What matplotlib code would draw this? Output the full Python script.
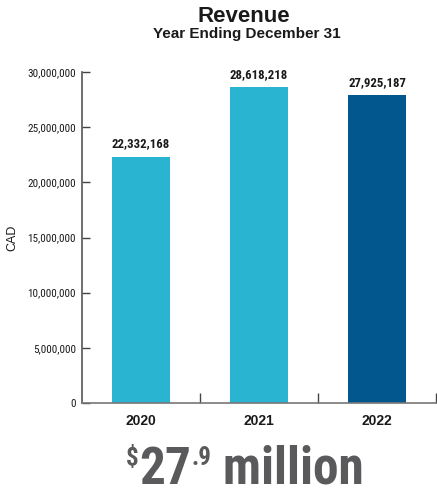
import matplotlib
matplotlib.use("Agg")
import matplotlib.pyplot as plt

years = ["2020", "2021", "2022"]
revenue = [22332168, 28618218, 27925187]
value_labels = ["22,332,168", "28,618,218", "27,925,187"]
yticks = [0, 5000000, 10000000, 15000000, 20000000, 25000000, 30000000]
ytick_labels = ["0", "5,000,000", "10,000,000", "15,000,000", "20,000,000", "25,000,000", "30,000,000"]
headline = ["$", "27", ".9", " million"]

bar_colors = ["#29B5D1", "#29B5D1", "#02578E"]
text_dark = "#1a1a1a"
big_gray = "#5a5a5c"

# condensed face for numbers, plain sans for headings
narrow = ["Roboto Condensed", "Archivo Narrow", "Barlow Condensed", "DejaVu Sans"]
plt.rcParams["font.family"] = ["Liberation Sans", "DejaVu Sans"]

fig = plt.figure(figsize=(4.37, 4.93), dpi=100)
ax = fig.add_axes([82 / 437, 1 - 403 / 493, 354 / 437, 331 / 493])

x = range(len(years))
bars = ax.bar(x, revenue, width=0.49, color=bar_colors, zorder=2)
for b, lab in zip(bars, value_labels):
    ax.annotate(lab, (b.get_x() + b.get_width() / 2, b.get_height()),
                xytext=(0, 6.5), textcoords="offset points", ha="center", va="baseline",
                fontsize=9.2, fontweight="bold", family=narrow, color=text_dark)

ax.set_xlim(-0.5, 2.5)
ax.set_ylim(0, 30000000)
ax.set_xticks(list(x))
ax.set_xticklabels(years, fontsize=10, fontweight="bold", color=text_dark)
ax.set_xticks([0.5, 1.5, 2.5], minor=True)
ax.tick_params(axis="x", which="major", length=0, pad=8)
ax.tick_params(axis="x", which="minor", direction="in", length=7, width=1, color="#444444")

ax.set_yticks(yticks)
ax.set_yticklabels(ytick_labels, fontsize=8, family=narrow, color=text_dark)
ax.set_yticks([0, 30000000], minor=True)
ax.tick_params(axis="y", which="major", direction="in", length=6, width=1, color="#444444", pad=4.5)
ax.tick_params(axis="y", which="minor", direction="in", length=8, width=1.2, color="#333333")
ax.set_ylabel("CAD", fontsize=9, color=text_dark)
ax.yaxis.set_label_coords(-64 / 354, 0.5)

for s in ["top", "right"]:
    ax.spines[s].set_visible(False)
ax.spines["left"].set_color("#555555")
ax.spines["bottom"].set_color("#777777")
ax.spines["left"].set_linewidth(1.2)
ax.spines["bottom"].set_linewidth(1.2)

fig.text(244 / 437, 1 - 22 / 493, "Revenue", ha="center", va="baseline",
         fontsize=16, fontweight="bold", color=text_dark)
fig.text(247 / 437, 1 - 38 / 493, "Year Ending December 31", ha="center", va="baseline",
         fontsize=11, fontweight="bold", color=text_dark)

# headline figure: superscript dollar sign and decimal
renderer = fig.canvas.get_renderer()
sizes = [18, 37, 18, 37]
raise_px = [19, 0, 19, 0]
kern_px = [1, 0, 0, 0]
xpos = 126
base_y = 484
for txt, sz, rp, kp in zip(headline, sizes, raise_px, kern_px):
    t = fig.text(xpos / 437, 1 - (base_y - rp) / 493, txt, ha="left", va="baseline",
                 fontsize=sz, fontweight="bold", family=narrow, color=big_gray)
    bb = t.get_window_extent(renderer)
    xpos += bb.width + kp

fig.savefig("out.png", dpi=100)
